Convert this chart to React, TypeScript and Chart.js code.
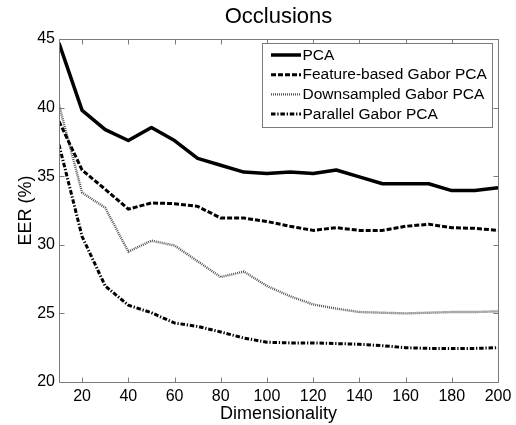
import React, { useEffect, useRef } from 'react';
import { Chart, registerables } from 'chart.js';

Chart.register(...registerables);

const dims = [10, 20, 30, 40, 50, 60, 70, 80, 90, 100, 110, 120, 130, 140, 150, 160, 170, 180, 190, 200];
const pca = [44.7, 39.8, 38.4, 37.6, 38.55, 37.6, 36.3, 35.8, 35.3, 35.2, 35.3, 35.2, 35.45, 34.95, 34.45, 34.45, 34.45, 33.95, 33.95, 34.15];
const featureGabor = [39.0, 35.45, 34.05, 32.6, 33.05, 33.0, 32.8, 31.95, 31.95, 31.7, 31.35, 31.05, 31.25, 31.05, 31.05, 31.35, 31.5, 31.25, 31.2, 31.05];
const downsampledGabor = [40.2, 33.8, 32.7, 29.5, 30.3, 29.95, 28.8, 27.65, 28.05, 27.0, 26.25, 25.65, 25.35, 25.1, 25.05, 25.0, 25.05, 25.1, 25.1, 25.15];
const parallelGabor = [37.3, 30.6, 27.0, 25.6, 25.05, 24.3, 24.05, 23.65, 23.2, 22.9, 22.85, 22.85, 22.8, 22.75, 22.65, 22.5, 22.45, 22.45, 22.45, 22.5];
const seriesLabels = ['PCA', 'Feature-based Gabor PCA', 'Downsampled Gabor PCA', 'Parallel Gabor PCA'];
const xTicks = [20, 40, 60, 80, 100, 120, 140, 160, 180, 200];
const yTicks = [20, 25, 30, 35, 40, 45];
const titleText = 'Occlusions';
const xTitle = 'Dimensionality';
const yTitle = 'EER (%)';

const FONT = "'Liberation Sans', Arial, Helvetica, sans-serif";
const AXIS_GRAY = '#7a7a7a';

const boxPlugin = {
  id: 'matlabBox',
  afterDatasetsDraw(chart: any) {
    const { ctx, chartArea: a, scales } = chart;
    ctx.save();
    ctx.strokeStyle = AXIS_GRAY;
    ctx.lineWidth = 1;
    ctx.setLineDash([]);
    const L = Math.floor(a.left) + 0.5;
    const R = Math.floor(a.right) + 0.5;
    const T = Math.floor(a.top) + 0.5;
    const B = Math.floor(a.bottom) + 0.5;
    ctx.beginPath();
    ctx.rect(L, T, R - L, B - T);
    const tl = 5;
    xTicks.forEach((v) => {
      const px = Math.round(scales.x.getPixelForValue(v)) + 0.5;
      ctx.moveTo(px, B);
      ctx.lineTo(px, B - tl);
      ctx.moveTo(px, T);
      ctx.lineTo(px, T + tl);
    });
    yTicks.forEach((v) => {
      const py = Math.round(scales.y.getPixelForValue(v)) + 0.5;
      ctx.moveTo(L, py);
      ctx.lineTo(L + tl, py);
      ctx.moveTo(R, py);
      ctx.lineTo(R - tl, py);
    });
    ctx.stroke();
    ctx.restore();
  },
};

const legendPlugin = {
  id: 'matlabLegend',
  afterDraw(chart: any) {
    const { ctx, chartArea: a } = chart;
    const ds = chart.data.datasets;
    ctx.save();
    ctx.font = `15.5px ${FONT}`;
    const textW = Math.max(...ds.map((d: any) => ctx.measureText(d.label).width));
    const padL = 9, sample = 30, gap = 1.5, padR = 5, rowH = 19.7, padT = 12, padB = 13;
    const w = Math.round(padL + sample + gap + textW + padR);
    const h = Math.round(padT + rowH * (ds.length - 1) + padB);
    const right = Math.round(a.right - 6);
    const top = Math.round(a.top + 4);
    const left = right - w;
    ctx.fillStyle = '#ffffff';
    ctx.fillRect(left, top, w, h);
    ctx.strokeStyle = AXIS_GRAY;
    ctx.lineWidth = 1;
    ctx.setLineDash([]);
    ctx.strokeRect(left + 0.5, top + 0.5, w, h);
    ds.forEach((d: any, i: number) => {
      const y = top + padT + i * rowH;
      ctx.beginPath();
      ctx.setLineDash(d.borderDash || []);
      ctx.lineWidth = d.borderWidth;
      ctx.strokeStyle = d.borderColor;
      ctx.moveTo(left + padL, y);
      ctx.lineTo(left + padL + sample, y);
      ctx.stroke();
      ctx.setLineDash([]);
      ctx.fillStyle = '#000';
      ctx.textBaseline = 'middle';
      ctx.textAlign = 'left';
      ctx.fillText(d.label, left + padL + sample + gap, y + 0.5);
    });
    ctx.restore();
  },
};

export default function App() {
  const canvasRef = useRef<HTMLCanvasElement | null>(null);

  useEffect(() => {
    const canvas = canvasRef.current;
    if (!canvas) return;
    const series = [pca, featureGabor, downsampledGabor, parallelGabor];
    const styles = [
      { borderColor: '#000000', borderWidth: 3.5, borderDash: [] as number[] },
      { borderColor: '#000000', borderWidth: 3, borderDash: [5, 2] },
      { borderColor: '#555555', borderWidth: 2.4, borderDash: [1, 1] },
      { borderColor: '#000000', borderWidth: 3, borderDash: [4.5, 1.8, 1.3, 1.8] },
    ];
    const chart = new Chart(canvas, {
      type: 'line',
      data: {
        labels: dims,
        datasets: series.map((vals, i) => ({
          label: seriesLabels[i],
          data: vals.map((v, j) => ({ x: dims[j], y: v })),
          ...styles[i],
          pointRadius: 0,
          tension: 0,
          fill: false,
          borderCapStyle: 'butt',
          borderJoinStyle: 'round',
        })),
      },
      options: {
        animation: false,
        responsive: false,
        devicePixelRatio: 1,
        layout: { padding: { left: 0, right: 18, top: 0, bottom: 0 } },
        plugins: {
          legend: { display: false },
          tooltip: { enabled: false },
          title: {
            display: true,
            text: titleText,
            fullSize: false,
            color: '#000',
            font: { family: FONT, size: 22, weight: 'normal' },
            padding: { top: 3.5, bottom: 9.1 },
          },
        },
        scales: {
          x: {
            type: 'linear',
            min: 10,
            max: 200,
            afterBuildTicks: (s: any) => {
              s.ticks = xTicks.map((v) => ({ value: v }));
            },
            afterFit: (s: any) => {
              s.height = 43;
            },
            grid: { display: false, drawTicks: false },
            border: { display: false },
            ticks: { color: '#000', font: { family: FONT, size: 16 }, padding: 4.5, maxRotation: 0, autoSkip: false },
            title: {
              display: true,
              text: xTitle,
              color: '#000',
              font: { family: FONT, size: 18 },
              padding: { top: 0, bottom: 0 },
            },
          },
          y: {
            type: 'linear',
            min: 20,
            max: 45,
            afterBuildTicks: (s: any) => {
              s.ticks = yTicks.map((v) => ({ value: v }));
            },
            afterFit: (s: any) => {
              s.width = 59;
            },
            grid: { display: false, drawTicks: false },
            border: { display: false },
            ticks: { color: '#000', font: { family: FONT, size: 16 }, padding: 4, autoSkip: false },
            title: {
              display: true,
              text: yTitle,
              color: '#000',
              font: { family: FONT, size: 18 },
              padding: { top: 15.5, bottom: 0 },
            },
          },
        },
      },
      plugins: [boxPlugin, legendPlugin],
    } as any);
    return () => chart.destroy();
  }, []);

  return (
    <div style={{ position: 'fixed', left: 0, top: 0, width: 516, height: 425, background: '#ffffff' }}>
      <canvas ref={canvasRef} width={516} height={425} style={{ display: 'block', width: 516, height: 425 }} />
    </div>
  );
}
